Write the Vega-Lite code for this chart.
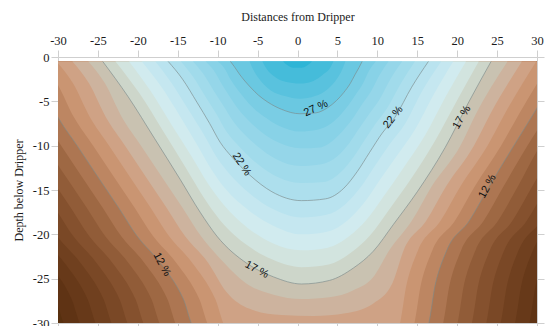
{
"$schema":"https://vega.github.io/schema/vega-lite/v6.json",
"width":479,"height":266,
"autosize":{"type":"none"},
"padding":{"left":58,"top":57,"right":17,"bottom":3},
"background":"white",
"config":{"view":{"stroke":null},
 "axis":{"domainColor":"#cfcfcf","tickColor":"#cfcfcf","labelFont":"Liberation Serif","titleFont":"Liberation Serif","labelFontSize":12.5,"titleFontSize":12,"titleFontWeight":"normal","labelColor":"#1a1a1a","titleColor":"#1a1a1a","tickSize":7,"grid":false,"labelFlush":false,"labelOverlap":false,"labelBound":false}},
"datasets":{
"contours":[
{"lv":3,"x":-31,"y":-30.5},{"lv":3,"x":31,"y":-30.5},
{"lv":4,"x":-33.2,"y":-23.2},{"lv":4,"x":-30.3,"y":-27.3},{"lv":4,"x":-28.9,"y":-30.5},{"lv":4,"x":31,"y":-30.5},
{"lv":5,"x":-34.1,"y":-20.2},{"lv":5,"x":-31.2,"y":-23.2},{"lv":5,"x":-28.3,"y":-27.3},{"lv":5,"x":-26.9,"y":-30.5},{"lv":5,"x":28.8,"y":-30.5},{"lv":5,"x":29.9,"y":-25.5},{"lv":5,"x":31.3,"y":-21.8},
{"lv":6,"x":-34.4,"y":-17},{"lv":6,"x":-32.1,"y":-20.2},{"lv":6,"x":-29.2,"y":-23.2},{"lv":6,"x":-26.3,"y":-27.3},{"lv":6,"x":-24.9,"y":-30.5},{"lv":6,"x":27,"y":-30.5},{"lv":6,"x":28.1,"y":-25.5},{"lv":6,"x":29.5,"y":-21.8},{"lv":6,"x":32.3,"y":-18.5},
{"lv":7,"x":-34.8,"y":-13.8},{"lv":7,"x":-32.4,"y":-17},{"lv":7,"x":-30.1,"y":-20.2},{"lv":7,"x":-27.2,"y":-23.2},{"lv":7,"x":-24.3,"y":-27.3},{"lv":7,"x":-22.9,"y":-30.5},{"lv":7,"x":25.2,"y":-30.5},{"lv":7,"x":26.3,"y":-25.5},{"lv":7,"x":27.7,"y":-21.8},{"lv":7,"x":30.5,"y":-18.5},{"lv":7,"x":33,"y":-14.6},
{"lv":8,"x":-35.2,"y":-10},{"lv":8,"x":-32.8,"y":-13.8},{"lv":8,"x":-30.4,"y":-17},{"lv":8,"x":-28.1,"y":-20.2},{"lv":8,"x":-25.2,"y":-23.2},{"lv":8,"x":-22.3,"y":-27.3},{"lv":8,"x":-20.9,"y":-30.5},{"lv":8,"x":23.4,"y":-30.5},{"lv":8,"x":24.5,"y":-25.5},{"lv":8,"x":25.9,"y":-21.8},{"lv":8,"x":28.7,"y":-18.5},{"lv":8,"x":31.2,"y":-14.6},
{"lv":9,"x":-36,"y":-6.8},{"lv":9,"x":-33.6,"y":-10},{"lv":9,"x":-30.8,"y":-13.8},{"lv":9,"x":-28.4,"y":-17},{"lv":9,"x":-26.1,"y":-20.2},{"lv":9,"x":-23.2,"y":-23.2},{"lv":9,"x":-20.3,"y":-27.3},{"lv":9,"x":-18.9,"y":-30.5},{"lv":9,"x":21.6,"y":-30.5},{"lv":9,"x":22.7,"y":-25.5},{"lv":9,"x":24.1,"y":-21.8},{"lv":9,"x":26.9,"y":-18.5},{"lv":9,"x":29.4,"y":-14.6},{"lv":9,"x":32.4,"y":-10},
{"lv":10,"x":-34,"y":-6.8},{"lv":10,"x":-31.6,"y":-10},{"lv":10,"x":-28.8,"y":-13.8},{"lv":10,"x":-26.4,"y":-17},{"lv":10,"x":-24.1,"y":-20.2},{"lv":10,"x":-21.2,"y":-23.2},{"lv":10,"x":-18.3,"y":-27.3},{"lv":10,"x":-16.9,"y":-30.5},{"lv":10,"x":19.8,"y":-30.5},{"lv":10,"x":20.9,"y":-25.5},{"lv":10,"x":22.3,"y":-21.8},{"lv":10,"x":25.1,"y":-18.5},{"lv":10,"x":27.6,"y":-14.6},{"lv":10,"x":30.4,"y":-10},{"lv":10,"x":33.1,"y":-6.5},
{"lv":11,"x":-34.1,"y":-3},{"lv":11,"x":-32,"y":-6.8},{"lv":11,"x":-29.6,"y":-10},{"lv":11,"x":-26.8,"y":-13.8},{"lv":11,"x":-24.4,"y":-17},{"lv":11,"x":-22.1,"y":-20.2},{"lv":11,"x":-19.2,"y":-23.2},{"lv":11,"x":-16.3,"y":-27.3},{"lv":11,"x":-14.9,"y":-30.5},{"lv":11,"x":18,"y":-30.5},{"lv":11,"x":19.1,"y":-25.5},{"lv":11,"x":20.5,"y":-21.8},{"lv":11,"x":23.3,"y":-18.5},{"lv":11,"x":25.8,"y":-14.6},{"lv":11,"x":28.8,"y":-10},{"lv":11,"x":31.3,"y":-6.5},
{"lv":12,"x":-34.2,"y":-0.5},{"lv":12,"x":-32.1,"y":-3},{"lv":12,"x":-30,"y":-6.8},{"lv":12,"x":-27.6,"y":-10},{"lv":12,"x":-24.8,"y":-13.8},{"lv":12,"x":-22.4,"y":-17},{"lv":12,"x":-20.1,"y":-20.2},{"lv":12,"x":-17.2,"y":-23.2},{"lv":12,"x":-14.3,"y":-27.3},{"lv":12,"x":-12.9,"y":-30.5},{"lv":12,"x":16.2,"y":-30.5},{"lv":12,"x":17.3,"y":-25.5},{"lv":12,"x":18.7,"y":-21.8},{"lv":12,"x":21.5,"y":-18.5},{"lv":12,"x":24,"y":-14.6},{"lv":12,"x":27.1,"y":-10},{"lv":12,"x":29.5,"y":-6.5},{"lv":12,"x":33.5,"y":-0.5},
{"lv":13,"x":-32.2,"y":-0.5},{"lv":13,"x":-30.1,"y":-3},{"lv":13,"x":-28,"y":-6.8},{"lv":13,"x":-25.6,"y":-10},{"lv":13,"x":-22.8,"y":-13.8},{"lv":13,"x":-20.4,"y":-17},{"lv":13,"x":-18.1,"y":-20.2},{"lv":13,"x":-15.2,"y":-23.2},{"lv":13,"x":-12.3,"y":-27.3},{"lv":13,"x":-10.9,"y":-30.5},{"lv":13,"x":14.4,"y":-30.5},{"lv":13,"x":15.5,"y":-25.5},{"lv":13,"x":16.9,"y":-21.8},{"lv":13,"x":19.7,"y":-18.5},{"lv":13,"x":22.2,"y":-14.6},{"lv":13,"x":25.5,"y":-10},{"lv":13,"x":27.7,"y":-6.5},{"lv":13,"x":31.7,"y":-0.5},
{"lv":14,"x":-30.2,"y":-0.5},{"lv":14,"x":-28.1,"y":-3},{"lv":14,"x":-26,"y":-6.8},{"lv":14,"x":-23.6,"y":-10},{"lv":14,"x":-20.8,"y":-13.8},{"lv":14,"x":-18.4,"y":-17},{"lv":14,"x":-16.1,"y":-20.2},{"lv":14,"x":-13.2,"y":-23.2},{"lv":14,"x":-10.3,"y":-27.3},{"lv":14,"x":-8.9,"y":-30.5},{"lv":14,"x":12.6,"y":-30.5},{"lv":14,"x":13.7,"y":-25.5},{"lv":14,"x":15.1,"y":-21.8},{"lv":14,"x":17.9,"y":-18.5},{"lv":14,"x":20.4,"y":-14.6},{"lv":14,"x":23.8,"y":-10},{"lv":14,"x":25.9,"y":-6.5},{"lv":14,"x":29.9,"y":-0.5},
{"lv":15,"x":-28.2,"y":-0.5},{"lv":15,"x":-26.1,"y":-3},{"lv":15,"x":-24,"y":-6.8},{"lv":15,"x":-21.6,"y":-10},{"lv":15,"x":-18.8,"y":-13.8},{"lv":15,"x":-16.4,"y":-17},{"lv":15,"x":-14.1,"y":-20.2},{"lv":15,"x":-11.2,"y":-23.2},{"lv":15,"x":-8.9,"y":-26.5},{"lv":15,"x":-6,"y":-28.4},{"lv":15,"x":-2,"y":-29.1},{"lv":15,"x":2,"y":-29.2},{"lv":15,"x":6,"y":-28.9},{"lv":15,"x":9.5,"y":-27.8},{"lv":15,"x":11.9,"y":-25.5},{"lv":15,"x":13.3,"y":-21.8},{"lv":15,"x":16.1,"y":-18.5},{"lv":15,"x":18.6,"y":-14.6},{"lv":15,"x":22.1,"y":-10},{"lv":15,"x":24.1,"y":-6.5},{"lv":15,"x":28.1,"y":-0.5},
{"lv":16,"x":-26.2,"y":-0.5},{"lv":16,"x":-24.1,"y":-3},{"lv":16,"x":-22,"y":-6.8},{"lv":16,"x":-19.6,"y":-10},{"lv":16,"x":-16.8,"y":-13.8},{"lv":16,"x":-14.4,"y":-17},{"lv":16,"x":-12.1,"y":-20.2},{"lv":16,"x":-9.2,"y":-23.2},{"lv":16,"x":-6.5,"y":-25.5},{"lv":16,"x":-3,"y":-26.8},{"lv":16,"x":0.5,"y":-27.3},{"lv":16,"x":4,"y":-27.1},{"lv":16,"x":7,"y":-26.3},{"lv":16,"x":9.5,"y":-24.8},{"lv":16,"x":11.5,"y":-21.8},{"lv":16,"x":14.3,"y":-18.5},{"lv":16,"x":16.8,"y":-14.6},{"lv":16,"x":20.4,"y":-10},{"lv":16,"x":22.3,"y":-6.5},{"lv":16,"x":26.3,"y":-0.5},
{"lv":17,"x":-24.4,"y":-0.5},{"lv":17,"x":-21.2,"y":-4.5},{"lv":17,"x":-17.9,"y":-9.2},{"lv":17,"x":-14.7,"y":-13.8},{"lv":17,"x":-12.2,"y":-17.5},{"lv":17,"x":-10.1,"y":-20.2},{"lv":17,"x":-6.3,"y":-23.3},{"lv":17,"x":-3,"y":-24.8},{"lv":17,"x":0.5,"y":-25.6},{"lv":17,"x":4,"y":-25.2},{"lv":17,"x":7,"y":-23.8},{"lv":17,"x":9.5,"y":-21.9},{"lv":17,"x":12,"y":-18.9},{"lv":17,"x":15,"y":-15.2},{"lv":17,"x":18.5,"y":-10.2},{"lv":17,"x":21.5,"y":-5},{"lv":17,"x":24.25,"y":-0.5},
{"lv":18,"x":-22.8,"y":-0.5},{"lv":18,"x":-19.8,"y":-4.1},{"lv":18,"x":-16.8,"y":-8.4},{"lv":18,"x":-14,"y":-12.5},{"lv":18,"x":-11.7,"y":-15.9},{"lv":18,"x":-9.7,"y":-18.4},{"lv":18,"x":-6.2,"y":-21.3},{"lv":18,"x":-3,"y":-22.9},{"lv":18,"x":0.5,"y":-23.7},{"lv":18,"x":3.9,"y":-23.4},{"lv":18,"x":6.8,"y":-22},{"lv":18,"x":9.1,"y":-20.1},{"lv":18,"x":11.4,"y":-17.3},{"lv":18,"x":14.1,"y":-13.9},{"lv":18,"x":17.2,"y":-9.5},{"lv":18,"x":20.1,"y":-4.7},{"lv":18,"x":22.7,"y":-0.5},
{"lv":19,"x":-21.1,"y":-0.5},{"lv":19,"x":-18.5,"y":-3.7},{"lv":19,"x":-15.8,"y":-7.6},{"lv":19,"x":-13.2,"y":-11.3},{"lv":19,"x":-11.2,"y":-14.3},{"lv":19,"x":-9.3,"y":-16.6},{"lv":19,"x":-6.2,"y":-19.3},{"lv":19,"x":-3.1,"y":-21},{"lv":19,"x":0.5,"y":-21.8},{"lv":19,"x":3.8,"y":-21.5},{"lv":19,"x":6.5,"y":-20.2},{"lv":19,"x":8.7,"y":-18.3},{"lv":19,"x":10.8,"y":-15.7},{"lv":19,"x":13.2,"y":-12.6},{"lv":19,"x":16,"y":-8.8},{"lv":19,"x":18.6,"y":-4.4},{"lv":19,"x":21.1,"y":-0.5},
{"lv":20,"x":-19.5,"y":-0.5},{"lv":20,"x":-17.1,"y":-3.3},{"lv":20,"x":-14.7,"y":-6.7},{"lv":20,"x":-12.5,"y":-10},{"lv":20,"x":-10.7,"y":-12.8},{"lv":20,"x":-9,"y":-14.9},{"lv":20,"x":-6.1,"y":-17.3},{"lv":20,"x":-3.1,"y":-19},{"lv":20,"x":0.5,"y":-20},{"lv":20,"x":3.7,"y":-19.7},{"lv":20,"x":6.3,"y":-18.4},{"lv":20,"x":8.3,"y":-16.5},{"lv":20,"x":10.2,"y":-14},{"lv":20,"x":12.4,"y":-11.2},{"lv":20,"x":14.7,"y":-8.2},{"lv":20,"x":17.2,"y":-4},{"lv":20,"x":19.5,"y":-0.5},
{"lv":21,"x":-17.8,"y":-0.5},{"lv":21,"x":-15.8,"y":-2.9},{"lv":21,"x":-13.7,"y":-5.9},{"lv":21,"x":-11.7,"y":-8.8},{"lv":21,"x":-10.2,"y":-11.2},{"lv":21,"x":-8.6,"y":-13.1},{"lv":21,"x":-6.1,"y":-15.3},{"lv":21,"x":-3.2,"y":-17.1},{"lv":21,"x":0.5,"y":-18.1},{"lv":21,"x":3.6,"y":-17.8},{"lv":21,"x":6,"y":-16.6},{"lv":21,"x":7.9,"y":-14.7},{"lv":21,"x":9.6,"y":-12.4},{"lv":21,"x":11.5,"y":-9.9},{"lv":21,"x":13.5,"y":-7.5},{"lv":21,"x":15.7,"y":-3.7},{"lv":21,"x":18,"y":-0.5},
{"lv":22,"x":-16.2,"y":-0.5},{"lv":22,"x":-14.4,"y":-2.5},{"lv":22,"x":-12.6,"y":-5.1},{"lv":22,"x":-11,"y":-7.5},{"lv":22,"x":-9.7,"y":-9.6},{"lv":22,"x":-8.2,"y":-11.3},{"lv":22,"x":-6,"y":-13.3},{"lv":22,"x":-3.2,"y":-15.2},{"lv":22,"x":0.5,"y":-16.2},{"lv":22,"x":3.5,"y":-16},{"lv":22,"x":5.8,"y":-14.8},{"lv":22,"x":7.5,"y":-12.9},{"lv":22,"x":9,"y":-10.8},{"lv":22,"x":10.6,"y":-8.6},{"lv":22,"x":12.2,"y":-6.8},{"lv":22,"x":14.3,"y":-3.4},{"lv":22,"x":16.4,"y":-0.5},
{"lv":23,"x":-14.6,"y":-0.5},{"lv":23,"x":-13.1,"y":-2.2},{"lv":23,"x":-11.5,"y":-4.5},{"lv":23,"x":-10.1,"y":-6.5},{"lv":23,"x":-8.9,"y":-8.4},{"lv":23,"x":-7.5,"y":-9.9},{"lv":23,"x":-5.5,"y":-11.7},{"lv":23,"x":-3,"y":-13.3},{"lv":23,"x":0.5,"y":-14.2},{"lv":23,"x":3.3,"y":-14.1},{"lv":23,"x":5.4,"y":-13},{"lv":23,"x":7,"y":-11.3},{"lv":23,"x":8.4,"y":-9.4},{"lv":23,"x":9.8,"y":-7.5},{"lv":23,"x":11.2,"y":-5.8},{"lv":23,"x":13,"y":-2.9},{"lv":23,"x":14.7,"y":-0.5},
{"lv":24,"x":-13.1,"y":-0.5},{"lv":24,"x":-11.8,"y":-1.9},{"lv":24,"x":-10.5,"y":-3.8},{"lv":24,"x":-9.2,"y":-5.6},{"lv":24,"x":-8.1,"y":-7.2},{"lv":24,"x":-6.9,"y":-8.5},{"lv":24,"x":-5.1,"y":-10},{"lv":24,"x":-2.7,"y":-11.5},{"lv":24,"x":0.4,"y":-12.3},{"lv":24,"x":3,"y":-12.1},{"lv":24,"x":5,"y":-11.2},{"lv":24,"x":6.5,"y":-9.7},{"lv":24,"x":7.7,"y":-8.1},{"lv":24,"x":9,"y":-6.4},{"lv":24,"x":10.2,"y":-4.9},{"lv":24,"x":11.7,"y":-2.4},{"lv":24,"x":13.1,"y":-0.5},
{"lv":25,"x":-11.5,"y":-0.5},{"lv":25,"x":-10.5,"y":-1.5},{"lv":25,"x":-9.4,"y":-3.2},{"lv":25,"x":-8.4,"y":-4.6},{"lv":25,"x":-7.4,"y":-5.9},{"lv":25,"x":-6.2,"y":-7.1},{"lv":25,"x":-4.6,"y":-8.4},{"lv":25,"x":-2.5,"y":-9.6},{"lv":25,"x":0.4,"y":-10.3},{"lv":25,"x":2.8,"y":-10.2},{"lv":25,"x":4.6,"y":-9.3},{"lv":25,"x":5.9,"y":-8.1},{"lv":25,"x":7.1,"y":-6.7},{"lv":25,"x":8.2,"y":-5.2},{"lv":25,"x":9.2,"y":-3.9},{"lv":25,"x":10.3,"y":-2},{"lv":25,"x":11.4,"y":-0.5},
{"lv":26,"x":-10,"y":-0.5},{"lv":26,"x":-9.2,"y":-1.2},{"lv":26,"x":-8.4,"y":-2.5},{"lv":26,"x":-7.5,"y":-3.7},{"lv":26,"x":-6.6,"y":-4.7},{"lv":26,"x":-5.6,"y":-5.7},{"lv":26,"x":-4.2,"y":-6.7},{"lv":26,"x":-2.2,"y":-7.8},{"lv":26,"x":0.3,"y":-8.4},{"lv":26,"x":2.5,"y":-8.2},{"lv":26,"x":4.2,"y":-7.5},{"lv":26,"x":5.4,"y":-6.5},{"lv":26,"x":6.4,"y":-5.4},{"lv":26,"x":7.4,"y":-4.1},{"lv":26,"x":8.2,"y":-3},{"lv":26,"x":9,"y":-1.5},{"lv":26,"x":9.8,"y":-0.5},
{"lv":27,"x":-8.4,"y":-0.5},{"lv":27,"x":-7.9,"y":-1.1},{"lv":27,"x":-7.3,"y":-1.9},{"lv":27,"x":-6.6,"y":-2.7},{"lv":27,"x":-5.8,"y":-3.5},{"lv":27,"x":-4.9,"y":-4.3},{"lv":27,"x":-3.7,"y":-5.1},{"lv":27,"x":-2,"y":-5.9},{"lv":27,"x":0.3,"y":-6.4},{"lv":27,"x":2.3,"y":-6.3},{"lv":27,"x":3.8,"y":-5.7},{"lv":27,"x":4.9,"y":-4.9},{"lv":27,"x":5.8,"y":-4},{"lv":27,"x":6.6,"y":-3},{"lv":27,"x":7.2,"y":-2},{"lv":27,"x":7.7,"y":-1.2},{"lv":27,"x":8.1,"y":-0.5},
{"lv":28,"x":-6,"y":-0.5},{"lv":28,"x":-5.5,"y":-1.5},{"lv":28,"x":-4.6,"y":-2.7},{"lv":28,"x":-3.3,"y":-3.8},{"lv":28,"x":-1.6,"y":-4.4},{"lv":28,"x":0.3,"y":-4.7},{"lv":28,"x":2.2,"y":-4.4},{"lv":28,"x":3.8,"y":-3.6},{"lv":28,"x":4.9,"y":-2.5},{"lv":28,"x":5.6,"y":-1.4},{"lv":28,"x":6,"y":-0.5},
{"lv":29,"x":-4.4,"y":-0.5},{"lv":29,"x":-3.9,"y":-1.3},{"lv":29,"x":-2.9,"y":-2.2},{"lv":29,"x":-1.5,"y":-2.8},{"lv":29,"x":0.3,"y":-3},{"lv":29,"x":2,"y":-2.7},{"lv":29,"x":3.3,"y":-1.9},{"lv":29,"x":4.1,"y":-1.2},{"lv":29,"x":4.5,"y":-0.5},
{"lv":30,"x":-1.8,"y":-0.5},{"lv":30,"x":-1.3,"y":-0.9},{"lv":30,"x":-0.5,"y":-1.2},{"lv":30,"x":0.5,"y":-1.2},{"lv":30,"x":1.3,"y":-0.9},{"lv":30,"x":1.8,"y":-0.5}
],
"labels":[
{"id":1,"t":"27 %","x":2.3,"y":-5.8},
{"id":2,"t":"22 %","x":-7.0,"y":-12.1},
{"id":3,"t":"22 %","x":12.0,"y":-6.8},
{"id":4,"t":"17 %","x":20.6,"y":-6.8},
{"id":5,"t":"17 %","x":-5.1,"y":-24.0},
{"id":6,"t":"12 %","x":-17.0,"y":-23.4},
{"id":7,"t":"12 %","x":23.8,"y":-14.6}
]},
"encoding":{
 "x":{"field":"x","type":"quantitative","scale":{"domain":[-30,30],"nice":false,"zero":false},"axis":null},
 "y":{"field":"y","type":"quantitative","scale":{"domain":[-30,0],"nice":false,"zero":false},"axis":null}
},
"layer":[
 {"data":{"name":"contours"},
  "mark":{"type":"area","clip":true,"interpolate":"monotone"},
  "encoding":{
   "x":{"field":"x","type":"quantitative","axis":{"orient":"top","values":[-30,-25,-20,-15,-10,-5,0,5,10,15,20,25,30],"title":"Distances from Dripper","labelPadding":3,"titlePadding":11,"labelExpr":"''+datum.value"}},
   "y":{"field":"y","type":"quantitative","stack":null,"axis":{"orient":"left","values":[0,-5,-10,-15,-20,-25,-30],"title":"Depth below Dripper","labelPadding":2,"titlePadding":7,"labelExpr":"''+datum.value"}},
   "y2":{"datum":-0.5},
   "color":{"field":"lv","type":"ordinal","legend":null,
     "scale":{"domain":[3,4,5,6,7,8,9,10,11,12,13,14,15,16,17,18,19,20,21,22,23,24,25,26,27,28,29,30],
      "range":["#58300f","#5f3314","#673919","#70401f","#7a4826","#85512e","#915c38","#9e6843","#ad7652","#bd8662","#ca9572","#cfa285","#cdb39e","#c9c2b1","#cdd6ca","#d2e4df","#d1ebef","#c5e7f0","#b9e3ef","#addfed","#a1dbeb","#95d6e9","#88d2e7","#7acde4","#6ac8e1","#59c2de","#45bcda","#2eb5d6"]}}
  }},
 {"data":{"name":"contours"},
  "transform":[{"filter":{"field":"lv","oneOf":[12,17,22,27]}}],
  "mark":{"type":"line","clip":true,"interpolate":"monotone","stroke":"#7d8b8b","strokeWidth":0.8,"opacity":0.8},
  "encoding":{
   "x":{"field":"x","type":"quantitative","axis":{"orient":"bottom","values":[-30,-25,-20,-15,-10,-5,0,5,10,15,20,25,30],"labels":false,"title":null}},
   "y":{"field":"y","type":"quantitative","axis":{"orient":"right","values":[0,-5,-10,-15,-20,-25,-30],"labels":false,"title":null}},
   "detail":{"field":"lv","type":"nominal"}
  }},
 {"data":{"name":"labels"},"transform":[{"filter":"datum.id==1"}],"mark":{"type":"text","angle":-25,"font":"Liberation Sans","fontSize":11,"color":"#111111"},"encoding":{"text":{"field":"t"}}},
 {"data":{"name":"labels"},"transform":[{"filter":"datum.id==2"}],"mark":{"type":"text","angle":57,"font":"Liberation Sans","fontSize":11,"color":"#111111"},"encoding":{"text":{"field":"t"}}},
 {"data":{"name":"labels"},"transform":[{"filter":"datum.id==3"}],"mark":{"type":"text","angle":-52,"font":"Liberation Sans","fontSize":11,"color":"#111111"},"encoding":{"text":{"field":"t"}}},
 {"data":{"name":"labels"},"transform":[{"filter":"datum.id==4"}],"mark":{"type":"text","angle":-60,"font":"Liberation Sans","fontSize":11,"color":"#111111"},"encoding":{"text":{"field":"t"}}},
 {"data":{"name":"labels"},"transform":[{"filter":"datum.id==5"}],"mark":{"type":"text","angle":28,"font":"Liberation Sans","fontSize":11,"color":"#111111"},"encoding":{"text":{"field":"t"}}},
 {"data":{"name":"labels"},"transform":[{"filter":"datum.id==6"}],"mark":{"type":"text","angle":62,"font":"Liberation Sans","fontSize":11,"color":"#111111"},"encoding":{"text":{"field":"t"}}},
 {"data":{"name":"labels"},"transform":[{"filter":"datum.id==7"}],"mark":{"type":"text","angle":-62,"font":"Liberation Sans","fontSize":11,"color":"#111111"},"encoding":{"text":{"field":"t"}}}
],
"resolve":{"axis":{"x":"independent","y":"independent"}}
}
